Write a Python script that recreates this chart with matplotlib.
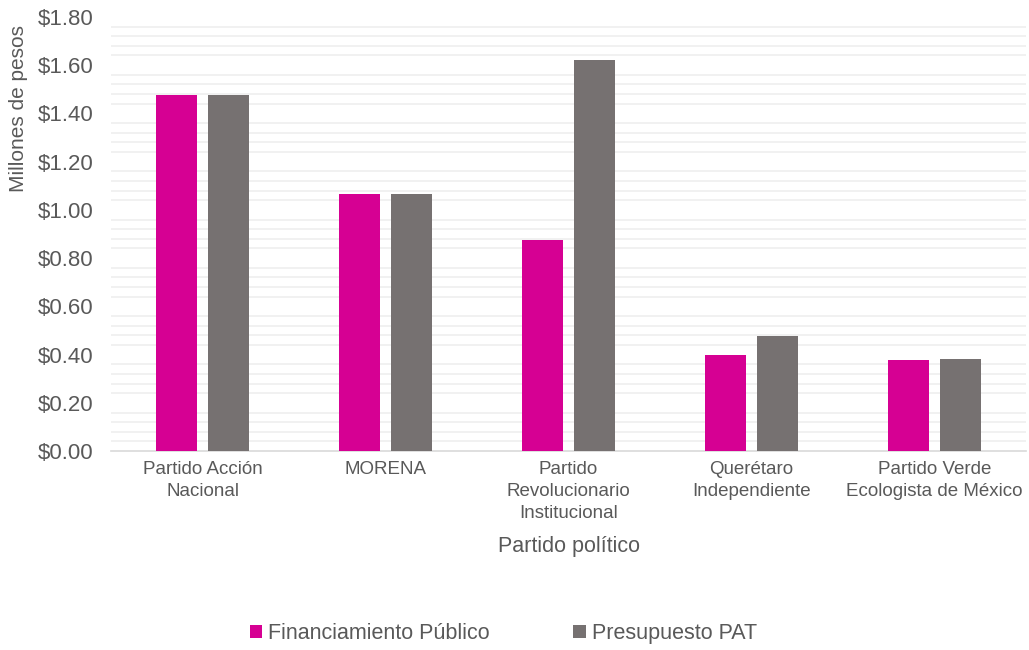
import matplotlib.pyplot as plt
import numpy as np
from matplotlib.ticker import MultipleLocator, FuncFormatter

plt.rcParams['font.family'] = ['Liberation Sans', 'DejaVu Sans']

# datos
partidos = ["Partido Acción\nNacional", "MORENA", "Partido\nRevolucionario\nInstitucional",
            "Querétaro\nIndependiente", "Partido Verde\nEcologista de México"]
financiamiento = [1.475, 1.066, 0.876, 0.398, 0.378]
presupuesto = [1.478, 1.066, 1.622, 0.477, 0.382]

rosa = "#D60093"
gris = "#767171"
texto = "#595959"

fig = plt.figure(figsize=(10.29, 6.5), dpi=100)
ax = fig.add_axes([0.108, 0.306, 0.889, 0.668])

x = np.arange(len(partidos))
w = 0.224
gap = 0.06
ax.bar(x - (w + gap) / 2, financiamiento, w, color=rosa, label="Financiamiento Público", zorder=3)
ax.bar(x + (w + gap) / 2, presupuesto, w, color=gris, label="Presupuesto PAT", zorder=3)

ax.set_xlim(-0.5, len(partidos) - 0.5)
ax.set_ylim(0, 1.8)
ax.yaxis.set_major_locator(MultipleLocator(0.2))
ax.yaxis.set_major_formatter(FuncFormatter(lambda v, p: f"${v:.2f}"))

# líneas de división menores (cada 0.04, sin las principales)
for v in np.arange(0.04, 1.79, 0.04):
    if abs(v / 0.2 - round(v / 0.2)) > 1e-6:
        ax.axhline(v, color="#EFEFEF", lw=1.2, zorder=0)

for s in ["top", "right", "left"]:
    ax.spines[s].set_visible(False)
ax.spines["bottom"].set_color("#D9D9D9")
ax.spines["bottom"].set_linewidth(1.2)

ax.set_xticks(x)
ax.set_xticklabels(partidos, fontsize=13.5, color=texto, linespacing=1.4)
ax.tick_params(axis="x", length=0, pad=7)
ax.tick_params(axis="y", length=0, labelsize=16, labelcolor=texto, pad=13)

ax.set_xlabel("Partido político", fontsize=15.5, color=texto, labelpad=10)
ax.set_ylabel("Millones de pesos", fontsize=15, color=texto)
ax.yaxis.set_label_coords(-0.091, 0.79)

fig.legend(loc="center", bbox_to_anchor=(0.489, 0.025), ncol=2, frameon=False,
           fontsize=15.5, labelcolor=texto, handlelength=0.6, handleheight=0.6,
           handletextpad=0.25, columnspacing=3.9)

fig.savefig("out.png", dpi=100)
